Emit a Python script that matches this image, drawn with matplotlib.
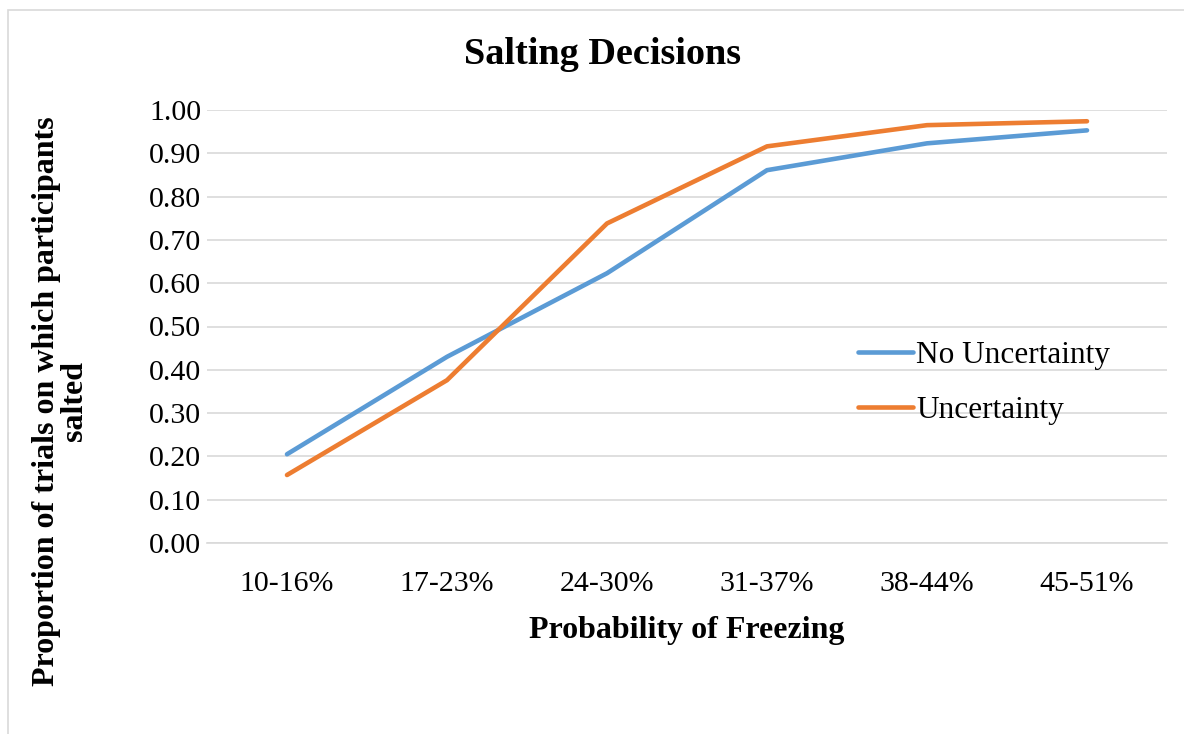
import matplotlib.pyplot as plt
from matplotlib.patches import Rectangle

# 数据
categories = ['10-16%', '17-23%', '24-30%', '31-37%', '38-44%', '45-51%']
no_uncertainty = [0.205, 0.43, 0.623, 0.861, 0.923, 0.953]
uncertainty = [0.157, 0.376, 0.738, 0.916, 0.965, 0.974]
yticks = [0.0, 0.1, 0.2, 0.3, 0.4, 0.5, 0.6, 0.7, 0.8, 0.9, 1.0]

plt.rcParams['font.family'] = ['Liberation Serif', 'DejaVu Serif']

W, H = 1184, 734
fig = plt.figure(figsize=(W / 100, H / 100), dpi=100)
ax = fig.add_axes([207 / W, 1 - 543 / H, 960 / W, 433 / H])

# 外框
fig.patches.append(Rectangle((8 / W, -0.1), 1.2, 1 - 10 / H + 0.1, transform=fig.transFigure,
                             fill=False, edgecolor='#D9D9D9', lw=1.2))

x = range(len(categories))
ax.plot(x, no_uncertainty, color='#5B9BD5', lw=3.3, solid_capstyle='round', label='No Uncertainty')
ax.plot(x, uncertainty, color='#ED7D31', lw=3.3, solid_capstyle='round', label='Uncertainty')

ax.set_xlim(-0.5, len(categories) - 0.5)
ax.set_ylim(0, 1.0)
ax.set_yticks(yticks)
ax.set_yticklabels(['%.2f' % v for v in yticks], fontsize=21.5)
ax.set_xticks(list(x))
ax.set_xticklabels(categories, fontsize=21.5)
ax.tick_params(length=0)
ax.tick_params(axis='x', pad=20)
ax.tick_params(axis='y', pad=4)
ax.grid(axis='y', color='#D9D9D9', lw=1.2)
ax.set_axisbelow(True)
for s in ['top', 'right', 'left']:
    ax.spines[s].set_visible(False)
ax.spines['bottom'].set_color('#D9D9D9')
ax.spines['bottom'].set_linewidth(1.2)

# 标题居中于整个图框
fig.text(603 / W, 1 - 55 / H, 'Salting Decisions', fontsize=27.5, fontweight='bold',
         ha='center', va='center')
ax.set_xlabel('Probability of Freezing', fontsize=23, fontweight='bold', labelpad=14)
ax.set_ylabel('Proportion of trials on which participants\nsalted', fontsize=23,
              fontweight='bold', linespacing=0.95)
ax.yaxis.set_label_coords(-0.123, 0.328)

ax.legend(loc='center left', bbox_to_anchor=(0.649, 0.37), frameon=False, fontsize=22.5,
          handlelength=1.75, labelspacing=0.85, handletextpad=0.1)

fig.savefig('out.png', dpi=100)
